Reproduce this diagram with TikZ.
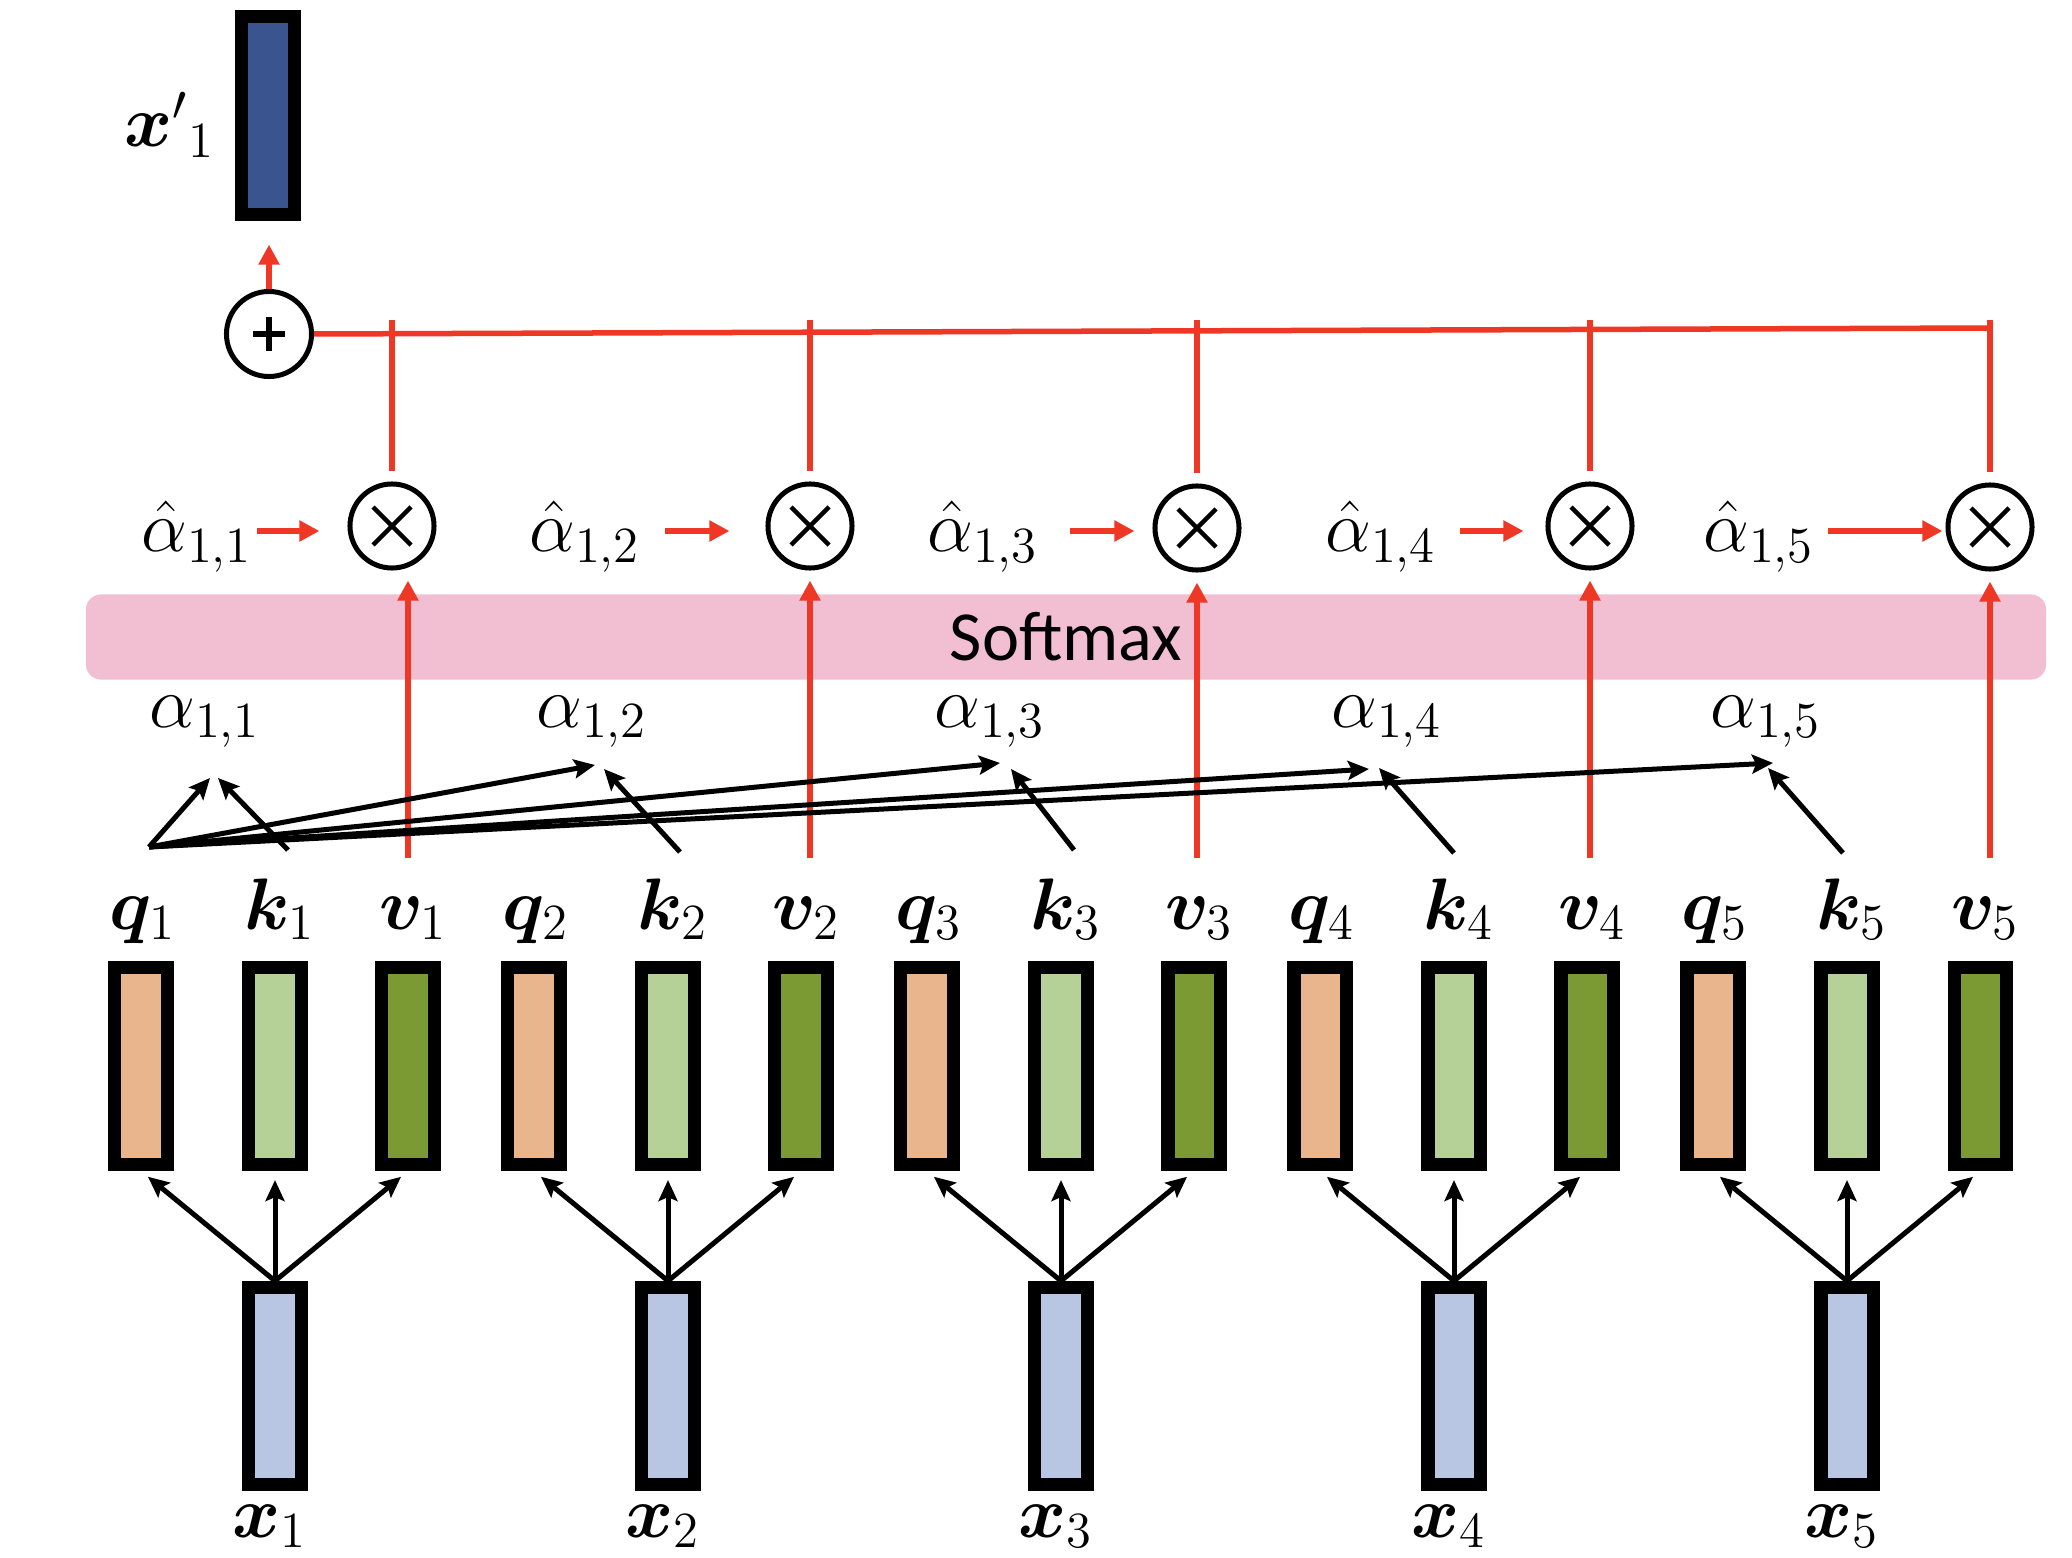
\documentclass[tikz,border=0pt]{standalone}
\usepackage{amsmath}
\usepackage{bm}
\usepackage{fontspec}
\newfontfamily\softfont{Carlito}
\usetikzlibrary{arrows.meta,calc}
\definecolor{qcol}{HTML}{E9B58D}
\definecolor{kcol}{HTML}{B5D198}
\definecolor{vcol}{HTML}{7C9A34}
\definecolor{xcol}{HTML}{B8C6E4}
\definecolor{xpcol}{HTML}{39548F}
\definecolor{rd}{HTML}{EE3724}
\definecolor{pinkband}{HTML}{F1BED2}
\tikzset{
 vecbox/.style={draw=black, line width=0.13cm, minimum width=0.52cm, minimum height=1.97cm, inner sep=0pt},
 lbl/.style={font=\fontsize{20}{24}\selectfont, inner sep=1pt, anchor=base},
 redline/.style={draw=rd, line width=0.055cm},
 redarr/.style={redline, -{Triangle[length=0.2cm,width=0.2cm]}},
 blkarr/.style={draw=black, line width=0.05cm, -{Stealth[length=0.21cm,width=0.19cm,inset=0.04cm]}},
 opcirc/.style={circle, draw=black, line width=0.05cm, minimum size=0.84cm, inner sep=0pt},
 band/.style={fill=pinkband, rounded corners=0.15cm, minimum width=19.59cm, minimum height=0.85cm, inner sep=0pt, font=\softfont\fontsize{20}{24}\selectfont},
}
\begin{document}
\begin{tikzpicture}[x=0.01cm,y=-0.01cm]
\fill[white] (0,0) rectangle (2072,1558);
\useasboundingbox (0,0) rectangle (2072,1558);

% softmax band
\node[band] (sm) at (1066,637) {Softmax};

% q k v x boxes and labels
\foreach \i [evaluate=\i as \kx using {275+393*(\i-1)}] in {1,...,5} {
  \node[vecbox, fill=qcol] (q\i) at (\kx-134,1066) {};
  \node[vecbox, fill=kcol] (k\i) at (\kx,1066) {};
  \node[vecbox, fill=vcol] (v\i) at (\kx+133,1066) {};
  \node[vecbox, fill=xcol] (x\i) at (\kx,1386) {};
  \node[lbl] (ql\i) at (\kx-134+2,929) {$\boldsymbol{q}_{\i}$};
  \node[lbl] (kl\i) at (\kx+5,929) {$\boldsymbol{k}_{\i}$};
  \node[lbl] (vl\i) at (\kx+133+5,929) {$\boldsymbol{v}_{\i}$};
  \node[lbl] (xl\i) at (\kx-5,1537) {$\boldsymbol{x}_{\i}$};
  \draw[blkarr, shorten >=0.09cm] (x\i.north) -- (q\i.south);
  \draw[blkarr, shorten >=0.09cm] (x\i.north) -- (k\i.south);
  \draw[blkarr, shorten >=0.09cm] (x\i.north) -- (v\i.south);
}

% multiply circles
\foreach \i/\mx/\my in {1/392/526, 2/810/526, 3/1197/528, 4/1590/526, 5/1990/527} {
  \node[opcirc] (m\i) at (\mx,\my) {};
  \draw[line width=0.045cm] ($(m\i)+(-19,-19)$) -- ($(m\i)+(19,19)$);
  \draw[line width=0.045cm] ($(m\i)+(-19,19)$) -- ($(m\i)+(19,-19)$);
}

% plus circle and output
\node[opcirc, minimum size=0.85cm] (p) at (269,334) {};
\draw[line width=0.06cm] ($(p)+(-16,0)$) -- ($(p)+(16,0)$);
\draw[line width=0.06cm] ($(p)+(0,-17)$) -- ($(p)+(0,17)$);
\node[vecbox, fill=xpcol] (xp) at (268,115.5) {};
\node[lbl] (xpl) at (170,147) {$\boldsymbol{x}'{}_{1}$};
\draw[redarr, shorten >=0.24cm] (p.north) -- (p.north |- xp.south);

% horizontal summation line
\coordinate (hr) at (1991,328);
\draw[redline] (p.east) -- (hr);
\foreach \i in {1,...,5} {
  \draw[redline, shorten >=0.1cm] ($(m\i |- hr)+(0,-8)$) -- (m\i.north);
}

% hat alpha labels and arrows
\foreach \i/\ax/\sx/\g in {1/197/257/0.28cm, 2/585/665/0.36cm, 3/983/1070/0.18cm, 4/1381/1460/0.22cm, 5/1759/1828/0.03cm} {
  \node[lbl] (ah\i) at (\ax,552) {$\hat{\alpha}_{1,\i}$};
  \coordinate (as\i) at (\sx,531);
  \draw[redarr, shorten >=\g] (as\i) -- (as\i -| m\i.west);
}

% value arrows into multiply circles
\draw[redarr, shorten <=0.34cm, shorten >=0.1cm] (v1 |- vl1.north) -- (v1 |- m1.south);
\foreach \i in {2,...,5} {
  \draw[redarr, shorten <=0.34cm, shorten >=0.1cm] (m\i |- vl\i.north) -- (m\i.south);
}

% alpha labels
\foreach \i/\ax in {1/205, 2/592, 3/990, 4/1387, 5/1766} {
  \node[lbl] (a\i) at (\ax,727) {$\alpha_{1,\i}$};
}

% attention score arrows
\coordinate (qo) at (149,847);
\foreach \i/\qx/\qy/\kx/\ky/\ox/\oy in {1/210/778/218/778/288/850, 2/595/765/604/769/680/852, 3/1000/763/1011/769/1074/850, 4/1369/769/1379/768/1454/853, 5/1773/763/1768/768/1843/853} {
  \coordinate (qt\i) at (\qx,\qy);
  \coordinate (kt\i) at (\kx,\ky);
  \coordinate (ko\i) at (\ox,\oy);
  \draw[blkarr] (qo) -- (qt\i);
  \draw[blkarr] (ko\i) -- (kt\i);
}
\end{tikzpicture}
\end{document}
